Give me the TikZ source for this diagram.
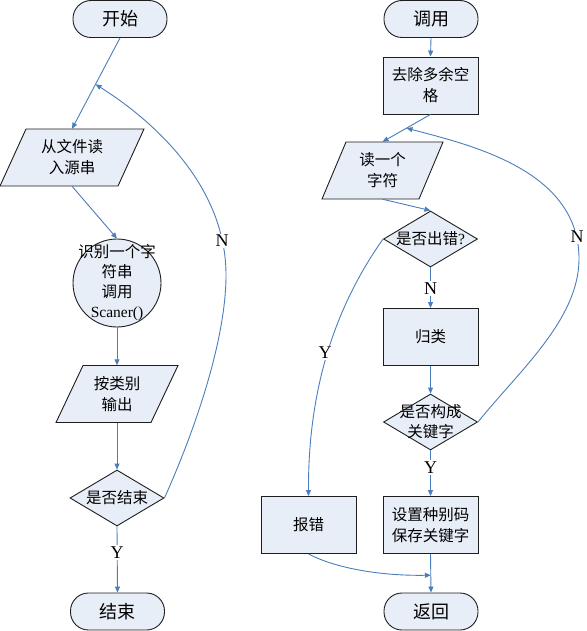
\documentclass[tikz,border=0pt]{standalone}
\usepackage{fontspec}
\setmainfont{Liberation Serif}
\newfontfamily\cjk{Noto Sans CJK SC}
\usetikzlibrary{shapes.geometric,arrows.meta,calc}
\definecolor{boxfill}{RGB}{232,238,247}
\definecolor{arrowblue}{RGB}{74,126,187}
\definecolor{edge}{RGB}{30,30,30}
\tikzset{
  shapeline/.style={draw=edge, line width=0.9pt, fill=boxfill},
  term/.style={shapeline, rounded corners=18pt, minimum width=94pt, minimum height=37pt, inner sep=0pt, font=\cjk\fontsize{18}{20}\selectfont},
  procbox/.style={shapeline, rectangle, minimum width=95pt, minimum height=57pt, inner sep=0pt, align=center, font=\cjk\fontsize{15.5}{21}\selectfont},
  decision/.style={shapeline, diamond, minimum width=94pt, minimum height=56pt, inner sep=0pt},
  intext/.style={align=center, inner sep=0pt, font=\cjk\fontsize{15.5}{20}\selectfont},
  paratext/.style={minimum width=96pt, minimum height=57pt, inner sep=0pt, align=center, font=\cjk\fontsize{15.5}{21}\selectfont},
  arr/.style={draw=arrowblue, line width=0.9pt, -{Triangle[length=6pt,width=5pt]}},
  lbl/.style={fill=white, inner sep=1.5pt, font=\fontsize{18}{20}\selectfont}
}
\newcommand\paral[6]{%
  \filldraw[shapeline] ({#2-#4+#5},{#3-28.5}) -- ({#2+#4+#5},{#3-28.5}) -- ({#2+#4-#5},{#3+28.5}) -- ({#2-#4-#5},{#3+28.5}) -- cycle;
  \node[paratext] (#1) at (#2,#3) {#6};}
\begin{document}
\begin{tikzpicture}[x=1pt,y=-1pt]
\useasboundingbox (0,0) rectangle (586,631);
% ---------- left column ----------
\node[term] (start) at (120,19) {开始};
\paral{p1}{72}{157.5}{59}{13}{从文件读\\入源串}
\node[shapeline, circle, minimum size=88pt, inner sep=0pt,
  label={[intext]center:{识别一个字\\符串\\调用\\{\rmfamily Scaner()}}}] (circ) at (117,283) {};
\paral{p2}{117}{394}{47.5}{13.5}{按类别\\输出}
\node[decision, label={[intext]center:{是否结束}}] (d1) at (117,498) {};
\node[term] (fin) at (117.5,611.5) {结束};

\draw[arr] (start.south) -- coordinate[pos=0.51] (m1) (p1.north);
\draw[arr] (p1.south) -- (circ.north);
\draw[arr] (circ.south) -- (p2.north);
\draw[arr] (p2.south) -- (d1.north);
\draw[arr] (d1.south) -- node[lbl, pos=0.39] (yl) {Y} (fin.north);
\draw[arr] (d1.east) .. controls (195,430) and (226,340) .. (226,275)
  .. controls (226,190) and (160,125) .. (m1);
\node[lbl] (nl) at (222,241) {N};

% ---------- right column ----------
\node[term] (call) at (431,19) {调用};
\node[procbox] (r1) at (430.5,85.5) {去除多余空\\格};
\paral{p3}{382.5}{170.5}{48.5}{12}{读一个\\字符};
\node[decision, label={[intext]center:{是否出错{\rmfamily ?}}}] (d2) at (430.5,239) {};
\node[procbox] (r2) at (430.5,337) {归类};
\node[decision, label={[intext]center:{是否构成\\关键字}}] (d3) at (430.5,422) {};
\node[procbox] (r3) at (430.5,525) {设置种别码\\保存关键字};
\node[procbox] (bao) at (308.5,525) {报错};
\node[term] (ret) at (431,611.5) {返回};

\draw[arr] (call.south) -- (r1.north);
\draw[arr] (r1.south) -- coordinate[pos=0.5] (m2) (p3.north);
\draw[arr] (p3.south) -- (d2.north);
\draw[arr] (d2.south) -- node[lbl, pos=0.52] (nr) {N} (r2.north);
\draw[arr] (r2.south) -- (d3.north);
\draw[arr] (d3.south) -- node[lbl, pos=0.38] (yr) {Y} (r3.north);
\draw[arr] (r3.south) -- coordinate[pos=0.55] (j) (ret.north);
\draw[arr] (d2.west) .. controls (340,300) and (308,380) .. (bao.north);
\node[lbl] (yl2) at (325,353) {Y};
\draw[arr] (bao.south) .. controls (335,568) and (380,576) .. (j);
\draw[arr] (d3.east) .. controls (520,370) and (578,320) .. (579,260)
  .. controls (580,170) and (470,145) .. (m2);
\node[lbl] (nr2) at (577,237) {N};
\end{tikzpicture}
\end{document}
